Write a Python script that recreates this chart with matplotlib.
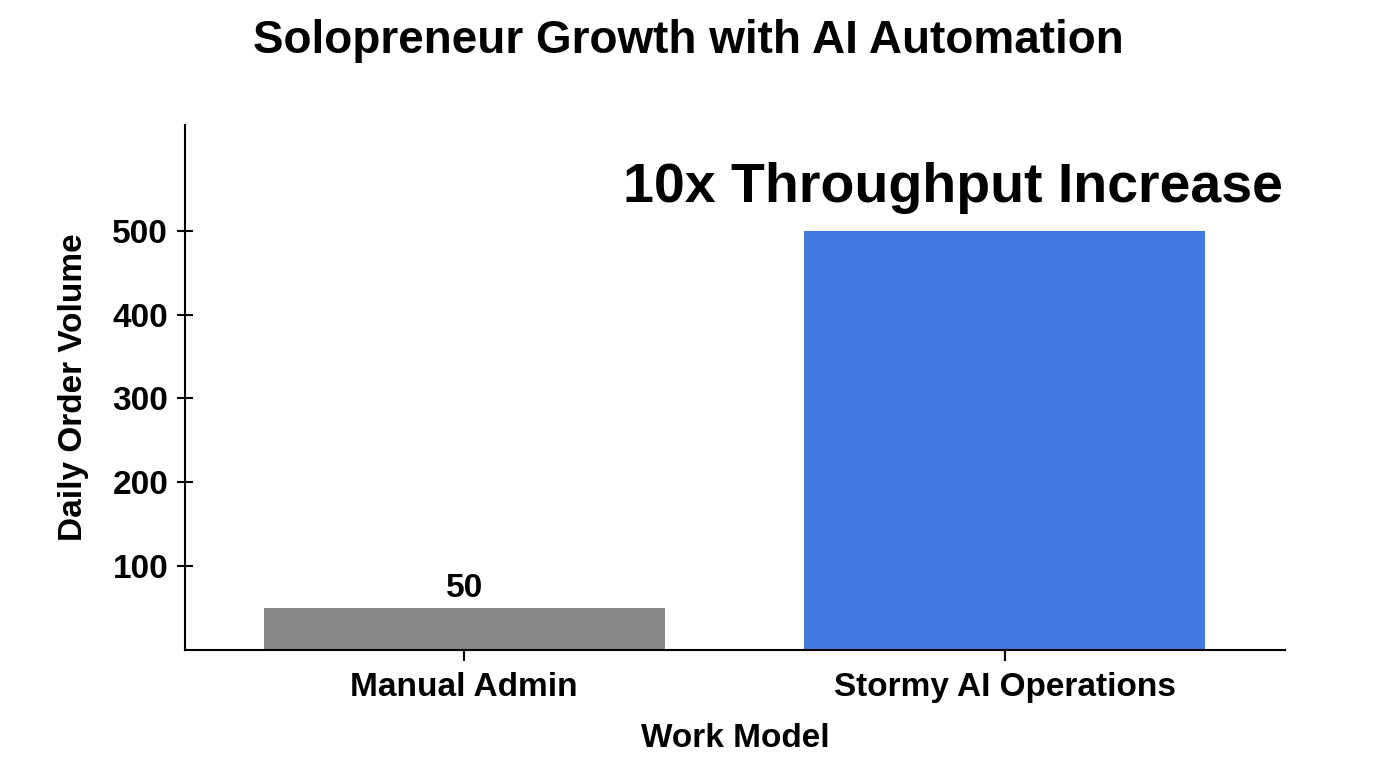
import matplotlib.pyplot as plt

# data
categories = ['Manual Admin', 'Stormy AI Operations']
orders = [50, 500]
bar_colors = ['#888888', '#4279E0']

plt.rcParams['font.family'] = ['Liberation Sans', 'DejaVu Sans']
plt.rcParams['font.weight'] = 'bold'

fig = plt.figure(figsize=(13.76, 7.68), dpi=100)
ax = fig.add_axes([0.1344, 0.1536, 0.7995, 0.6836])

x = range(len(categories))
ax.bar(x, orders, width=0.743, color=bar_colors)

# label only the small bar
ax.text(0, orders[0] + 5, str(orders[0]), ha='center', va='bottom',
        fontsize=24, fontweight='bold')

ax.text(0.998, 0.88, '10x Throughput Increase', transform=ax.transAxes,
        ha='right', va='center', fontsize=40, fontweight='bold')

ax.set_xlim(-0.517, 1.519)
ax.set_ylim(0, 626)
ax.set_xticks(list(x))
ax.set_xticklabels(categories, fontsize=24, fontweight='bold')
ax.set_yticks([100, 200, 300, 400, 500])
ax.tick_params(axis='y', direction='inout', length=12, width=1.5, labelsize=24, pad=6)
ax.tick_params(axis='x', direction='out', length=8, width=1.5, pad=8)
for lbl in ax.get_yticklabels():
    lbl.set_fontweight('bold')

ax.spines['top'].set_visible(False)
ax.spines['right'].set_visible(False)
ax.spines['left'].set_linewidth(1.5)
ax.spines['bottom'].set_linewidth(1.5)

ax.set_xlabel('Work Model', fontsize=24, fontweight='bold', labelpad=14)
ax.set_ylabel('Daily Order Volume', fontsize=24, fontweight='bold', labelpad=17)

fig.suptitle('Solopreneur Growth with AI Automation', x=0.5, y=0.975,
             fontsize=33, fontweight='bold')

fig.savefig('out.png', dpi=100)
